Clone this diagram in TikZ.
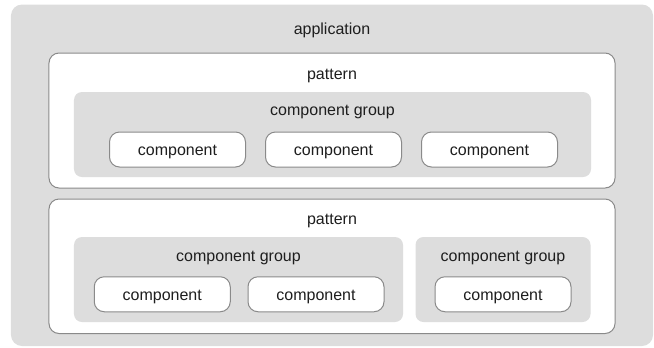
\documentclass[tikz,border=0pt]{standalone}
\usepackage{fontspec}
\setmainfont{Liberation Sans}
\definecolor{boxgray}{HTML}{DDDDDD}
\definecolor{edgegray}{HTML}{8A8A8A}
\definecolor{txt}{HTML}{1E1E1E}
\begin{document}
\begin{tikzpicture}[x=1bp,y=-1bp,
  every node/.style={inner sep=0pt, outer sep=0pt, text=txt,
    font=\fontsize{16bp}{19bp}\selectfont},
  appbox/.style={rectangle, fill=boxgray, rounded corners=11bp},
  patbox/.style={rectangle, fill=white, draw=edgegray, line width=1bp, rounded corners=10bp},
  grpbox/.style={rectangle, fill=boxgray, rounded corners=8bp},
  compbox/.style={rectangle, fill=white, draw=edgegray, line width=1bp, rounded corners=10bp,
    minimum width=136bp, minimum height=35bp, text height=12bp, text depth=0bp},
  lbl/.style={anchor=base}
]
\useasboundingbox (0,0) rectangle (654,347);
% application
\node[appbox, minimum width=642bp, minimum height=341.5bp] (app) at (332,175.25) {};
\node[lbl] (appl) at (332,34) {application};
% pattern 1
\node[patbox, minimum width=566bp, minimum height=135bp] (p1) at (332,120.5) {};
\node[lbl] (p1l) at (332,79.3) {pattern};
\node[grpbox, minimum width=517bp, minimum height=85bp] (g1) at (332.5,134.5) {};
\node[lbl] (g1l) at (332.5,115.7) {component group};
\node[compbox] (c1) at (177.5,149.5) {component};
\node[compbox] (c2) at (333.5,149.5) {component};
\node[compbox] (c3) at (489.5,149.5) {component};
% pattern 2
\node[patbox, minimum width=566bp, minimum height=134.5bp] (p2) at (332,266.25) {};
\node[lbl] (p2l) at (332,224.2) {pattern};
\node[grpbox, minimum width=329bp, minimum height=85bp] (g2) at (238.5,279.5) {};
\node[lbl] (g2l) at (238.5,261) {component group};
\node[compbox] (c4) at (162.25,294.25) {component};
\node[compbox] (c5) at (316,294.25) {component};
\node[grpbox, minimum width=175bp, minimum height=85bp] (g3) at (503,279.5) {};
\node[lbl] (g3l) at (503,261) {component group};
\node[compbox] (c6) at (503,294.25) {component};
\end{tikzpicture}
\end{document}
